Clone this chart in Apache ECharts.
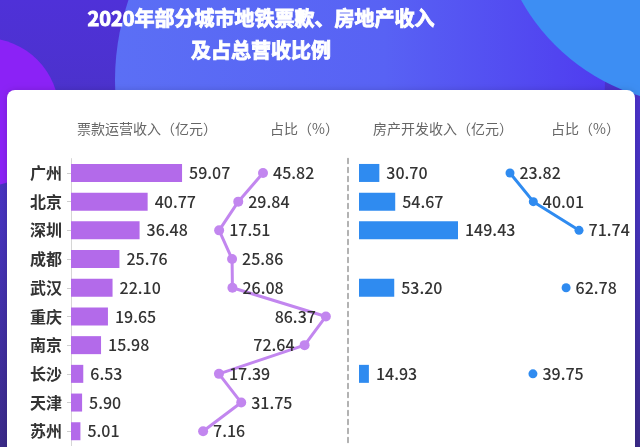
<!DOCTYPE html>
<html>
<head>
<meta charset="utf-8">
<script src="https://cdn.jsdelivr.net/npm/echarts@6/dist/echarts.min.js"></script>
<style>
  html, body { margin: 0; padding: 0; }
  #main { width: 640px; height: 447px; }
</style>
</head>
<body>
<div id="main"></div>
<script>
// 城市
const cities = ['广州', '北京', '深圳', '成都', '武汉', '重庆', '南京', '长沙', '天津', '苏州'];
// 票款运营收入（亿元）及占比（%）
const ticketIncome = [59.07, 40.77, 36.48, 25.76, 22.10, 19.65, 15.98, 6.53, 5.90, 5.01];
const ticketRatio = [45.82, 29.84, 17.51, 25.86, 26.08, 86.37, 72.64, 17.39, 31.75, 7.16];
// 房产开发收入（亿元）及占比（%），没有的城市留空
const estateIncome = [30.70, 54.67, 149.43, null, 53.20, null, null, 14.93, null, null];
const estateRatio = [23.82, 40.01, 71.74, null, 62.78, null, null, 39.75, null, null];

const FONT = '"Noto Sans CJK SC", "Noto Sans", sans-serif';
const PURPLE = '#b36aea';
const PURPLE_LINE = '#c286ef';
const BLUE = '#2f8bf0';

const myChart = echarts.init(document.getElementById('main'), null, {renderer: 'canvas'});

const rowTop = 158.6;
const rowH = 287;

function catAxis(gridIndex, show) {
    return {
        type: 'category', gridIndex, data: cities, inverse: true,
        axisLine: {show: show, lineStyle: {color: '#d6d6d6'}},
        axisTick: {show: show, alignWithLabel: true, length: 4, lineStyle: {color: '#cfcfcf'}},
        axisLabel: {show: show, margin: 9, color: '#333', fontSize: 16, fontWeight: 'bold', fontFamily: FONT},
        splitLine: {show: false}
    };
}
function valAxis(gridIndex, max) {
    return {type: 'value', gridIndex, min: 0, max, show: false};
}
const valueLabel = {
    show: true, position: 'right', distance: 7,
    color: '#333', fontSize: 16, fontWeight: 500, fontFamily: FONT,
    formatter: p => p.value == null ? '' : p.value.toFixed(2)
};
function header(text, left) {
    return {text, left, top: 117, textStyle: {color: '#666', fontSize: 14, fontWeight: 'normal', fontFamily: FONT}};
}
function titleLine(text, y) {
    // 原图标题字重很粗，加一点白色描边
    return {
        type: 'text', x: 261, y, z: 10,
        style: {
            text, fill: '#fff', stroke: '#fff', lineWidth: 0.9,
            fontSize: 20, fontWeight: 'bold', fontFamily: FONT, align: 'center', verticalAlign: 'middle'
        }
    };
}

const option = {
    animation: false,
    title: [
        header('票款运营收入（亿元）', 72),
        header('占比（%）', 265),
        header('房产开发收入（亿元）', 368),
        header('占比（%）', 546)
    ],
    graphic: [
        {
            type: 'rect', z: -10, shape: {x: 0, y: 0, width: 640, height: 447},
            style: {fill: new echarts.graphic.LinearGradient(0, 0, 0, 1, [
                {offset: 0, color: '#4f31d8'}, {offset: 0.5, color: '#4633bb'}, {offset: 1, color: '#3a2a88'}
            ])}
        },
        {
            type: 'circle', z: -9, shape: {cx: 360, cy: 80, r: 245},
            style: {fill: new echarts.graphic.LinearGradient(0, 0, 1, 0, [
                {offset: 0, color: '#5b6ff5'}, {offset: 0.55, color: '#5862f4'}, {offset: 1, color: '#4f3cef'}
            ])}
        },
        {type: 'circle', z: -9, shape: {cx: 700, cy: -100, r: 205}, style: {fill: '#3d8ef3'}},
        {type: 'circle', z: -9, shape: {cx: -15, cy: 112, r: 74}, style: {fill: '#8b22f6'}},
        {
            type: 'rect', z: -5, shape: {x: 7, y: 90, width: 628, height: 420, r: 8},
            style: {fill: '#fff', shadowBlur: 6, shadowColor: 'rgba(0,0,0,0.15)'}
        },
        titleLine('2020年部分城市地铁票款、房地产收入', 18),
        titleLine('及占总营收比例', 50)
    ],
    grid: [
        {left: 71, top: rowTop, width: 188, height: rowH},
        {left: 192, top: rowTop, width: 155, height: rowH},
        {left: 359, top: rowTop, width: 132.5, height: rowH},
        {left: 475.7, top: rowTop, width: 144, height: rowH}
    ],
    xAxis: [valAxis(0, 100), valAxis(1, 100), valAxis(2, 200), valAxis(3, 100)],
    yAxis: [
        catAxis(0, true),
        catAxis(1, false),
        Object.assign(catAxis(2, false), {
            axisLine: {show: true, onZero: false, lineStyle: {color: '#999', type: [5, 4], width: 1.5}},
            offset: 11
        }),
        catAxis(3, false)
    ],
    series: [
        {
            type: 'bar', xAxisIndex: 0, yAxisIndex: 0, data: ticketIncome,
            barWidth: 18, itemStyle: {color: PURPLE}, label: valueLabel
        },
        {
            type: 'line', xAxisIndex: 1, yAxisIndex: 1,
            // 靠右的大数值标签放在点的左边
            data: ticketRatio.map(v => ({value: v, label: {position: v > 70 ? 'left' : 'right'}})),
            symbol: 'circle', symbolSize: 10,
            lineStyle: {color: PURPLE_LINE, width: 3},
            itemStyle: {color: PURPLE_LINE},
            label: Object.assign({}, valueLabel, {distance: 5})
        },
        {
            type: 'bar', xAxisIndex: 2, yAxisIndex: 2, data: estateIncome,
            barWidth: 18, itemStyle: {color: BLUE}, label: valueLabel
        },
        {
            type: 'line', xAxisIndex: 3, yAxisIndex: 3, data: estateRatio,
            symbol: 'circle', symbolSize: 9,
            lineStyle: {color: BLUE, width: 3},
            itemStyle: {color: BLUE},
            label: Object.assign({}, valueLabel, {distance: 5})
        }
    ]
};

myChart.setOption(option);
</script>
</body>
</html>
